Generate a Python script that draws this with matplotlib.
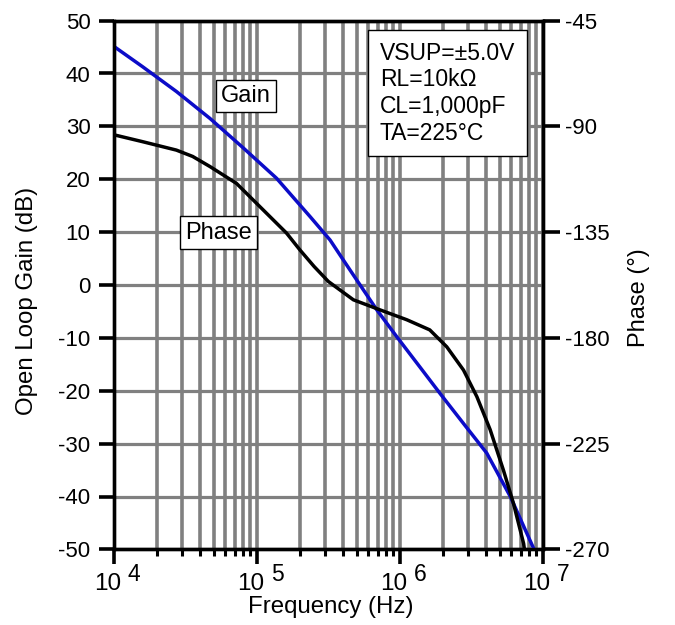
import matplotlib
matplotlib.use('Agg')
import matplotlib.pyplot as plt
from matplotlib.ticker import LogLocator, NullFormatter, FixedLocator

plt.rcParams['font.family'] = ['Liberation Sans', 'DejaVu Sans']
plt.rcParams['axes.unicode_minus'] = False

# ---------------- data ----------------
gain_freq = [1.0e4, 1.58e4, 2.73e4, 4.69e4, 8.04e4, 1.37e5, 2.36e5, 3.25e5,
             4.03e5, 4.49e5, 6.9e5, 9.53e5, 1.39e6, 1.91e6, 2.79e6, 4.06e6,
             5.93e6, 8.7e6]
gain_db = [45.1, 41.3, 36.6, 31.5, 25.9, 20.2, 12.9, 8.5,
           4.7, 2.8, -4.7, -9.8, -15.6, -20.5, -26.2, -31.8,
           -40.0, -50.0]

phase_freq = [1.0e4, 1.58e4, 2.73e4, 3.55e4, 4.69e4, 7.2e4, 1.05e5, 1.61e5, 2.0e5,
              2.51e5, 3.16e5, 4.73e5, 7.28e5, 1.12e6, 1.62e6, 2.13e6, 2.79e6,
              3.46e6, 4.29e6, 5.31e6, 6.24e6, 7.35e6, 7.45e6]
phase_deg = [-93.6, -96.5, -100.1, -102.8, -107.1, -114.3, -124.2, -135.4, -142.6,
             -149.6, -156.0, -163.8, -168.1, -172.3, -176.6, -183.8, -193.7,
             -205.0, -219.1, -236.3, -250.4, -267.5, -270.0]

gain_ticks = [-50, -40, -30, -20, -10, 0, 10, 20, 30, 40, 50]
phase_ticks = [-270, -225, -180, -135, -90, -45]
decade_freqs = [1e4, 1e5, 1e6, 1e7]
decade_base = ['10', '10', '10', '10']
decade_exp = ['4', '5', '6', '7']

x_label = 'Frequency (Hz)'
y_label = 'Open Loop Gain (dB)'
y2_label = 'Phase (°)'
gain_tag = 'Gain'
phase_tag = 'Phase'
cond_lines = ['VSUP=±5.0V', 'RL=10kΩ', 'CL=1,000pF', 'TA=225°C']

# ---------------- figure ----------------
fig = plt.figure(figsize=(6.75, 6.25), dpi=100)
ax = fig.add_axes([0.169, 0.121, 0.635, 0.846])
ax.set_xscale('log')
ax.set_xlim(1e4, 1e7)
ax.set_ylim(-50, 50)

grid_col = '#808080'
ax.xaxis.set_major_locator(FixedLocator(decade_freqs))
ax.xaxis.set_minor_locator(LogLocator(base=10, subs=range(2, 10)))
ax.xaxis.set_minor_formatter(NullFormatter())
ax.set_yticks(gain_ticks)
ax.grid(True, axis='x', which='both', color=grid_col, lw=2.6)
ax.grid(True, axis='y', which='major', color=grid_col, lw=2.3)

ax.plot(gain_freq, gain_db, color='#0c0cc8', lw=2.5, zorder=3,
        solid_joinstyle='round', solid_capstyle='round')

ax2 = ax.twinx()
ax2.set_ylim(-270, -45)
ax2.set_yticks(phase_ticks)
ax2.plot(phase_freq, phase_deg, color='black', lw=2.5, zorder=3,
         solid_joinstyle='round', solid_capstyle='round')

for a in (ax, ax2):
    for s in a.spines.values():
        s.set_linewidth(2.4)
        s.set_color('black')

ax.tick_params(axis='y', which='major', direction='out', length=11, width=2.6,
               labelsize=16, pad=6)
ax.tick_params(axis='x', which='major', direction='out', length=11, width=2.6,
               labelbottom=False)
ax.tick_params(axis='x', which='minor', direction='out', length=5, width=2.2,
               labelbottom=False)
ax2.tick_params(axis='y', which='major', direction='out', length=12, width=2.6,
                labelsize=16, pad=4)

# custom decade labels
for f, b, e in zip(decade_freqs, decade_base, decade_exp):
    ax.annotate(b, xy=(f, 0), xycoords=('data', 'axes fraction'),
                xytext=(5.5, -29), textcoords='offset points',
                ha='right', va='baseline', fontsize=17.5)
    ax.annotate(e, xy=(f, 0), xycoords=('data', 'axes fraction'),
                xytext=(10, -22.5), textcoords='offset points',
                ha='left', va='baseline', fontsize=16.5)

ax.set_xlabel(x_label, fontsize=17.3)
ax.xaxis.set_label_coords(0.505, -0.089)
ax.set_ylabel(y_label, fontsize=17.3)
ax.yaxis.set_label_coords(-0.178, 0.47)
ax2.set_ylabel(y2_label, fontsize=17)
ax2.yaxis.set_label_coords(1.2, 0.477)

box = dict(boxstyle='square,pad=0.22', fc='white', ec='black', lw=1)
ax.text(8.4e4, 35.7, gain_tag, ha='center', va='center', fontsize=17,
        bbox=box, zorder=5)
ax.text(5.37e4, 9.9, phase_tag, ha='center', va='center', fontsize=17,
        bbox=box, zorder=5)

ax2.text(0.62, 0.96, '\n'.join(cond_lines), transform=ax.transAxes,
         ha='left', va='top', fontsize=16.5, linespacing=1.2,
         bbox=dict(boxstyle='square,pad=0.5', fc='white', ec='black', lw=1),
         zorder=5)

fig.savefig('out.png', dpi=100)
